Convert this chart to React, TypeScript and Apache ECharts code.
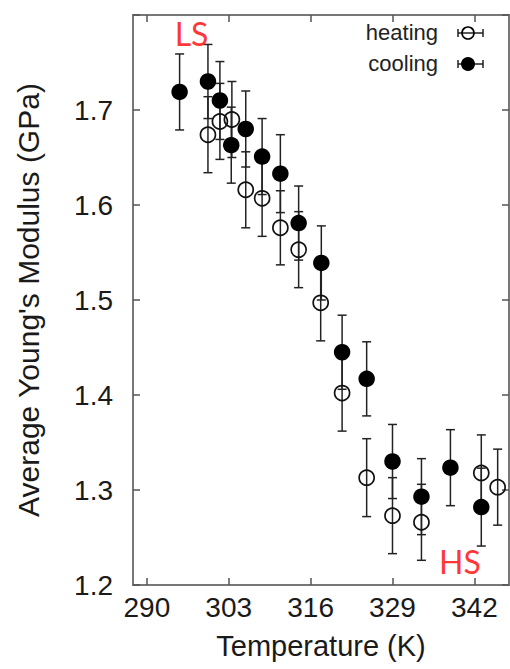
import React, { useEffect, useRef } from "react";
import * as echarts from "echarts";

// Heating (open circles)
const heatingT = [299.7, 301.6, 303.5, 305.7, 308.3, 311.2, 314.1, 317.6, 321.0, 324.9, 329.0, 333.6, 343.1, 345.7];
const heatingE = [1.674, 1.688, 1.69, 1.616, 1.607, 1.576, 1.553, 1.497, 1.402, 1.313, 1.273, 1.266, 1.318, 1.303];
const heatingErr = [0.04, 0.04, 0.04, 0.04, 0.04, 0.039, 0.04, 0.04, 0.04, 0.041, 0.04, 0.04, 0.04, 0.04];

// Cooling (filled circles)
const coolingT = [295.2, 299.7, 301.6, 303.4, 305.7, 308.3, 311.2, 314.1, 317.7, 321.0, 324.9, 329.0, 333.6, 338.2, 343.1];
const coolingE = [1.719, 1.73, 1.71, 1.663, 1.68, 1.651, 1.633, 1.581, 1.539, 1.445, 1.417, 1.33, 1.293, 1.3235, 1.282];
const coolingErr = [0.04, 0.039, 0.041, 0.04, 0.04, 0.04, 0.041, 0.039, 0.039, 0.039, 0.039, 0.039, 0.04, 0.04, 0.041];

// Axis ticks
const xTicks = [290, 303, 316, 329, 342];
const yTicks = [1.2, 1.3, 1.4, 1.5, 1.6, 1.7, 1.8];
const yLabels = [1.2, 1.3, 1.4, 1.5, 1.6, 1.7];

// Annotations
const annoText = ["LS", "HS"];
const annoT = [297.1, 339.7];
const annoE = [1.7805, 1.2247];

const FONT = "'Liberation Sans', Arial, sans-serif";

export default function App() {
  const ref = useRef<HTMLDivElement>(null);
  useEffect(() => {
    if (!ref.current) return;
    const chart = echarts.init(ref.current, undefined, { renderer: "svg" });

    const errData = (t: number[], e: number[], err: number[]) =>
      t.map((x, i) => [x, e[i] - err[i], e[i] + err[i]]);

    const errRender = (params: any, api: any) => {
      const x = api.value(0);
      const lo = api.value(1);
      const hi = api.value(2);
      const top = api.coord([x, hi]);
      const bot = api.coord([x, lo]);
      const w = 4.5;
      const style = { stroke: "#222", lineWidth: 1.5 };
      return {
        type: "group",
        children: [
          { type: "line", shape: { x1: top[0], y1: top[1], x2: bot[0], y2: bot[1] }, style },
          { type: "line", shape: { x1: top[0] - w, y1: top[1], x2: top[0] + w, y2: top[1] }, style },
          { type: "line", shape: { x1: bot[0] - w, y1: bot[1], x2: bot[0] + w, y2: bot[1] }, style },
        ],
      };
    };

    const tickStyle = { color: "#555", width: 1.5 };
    const xMin = 287.8;
    const xMax = 347.5;

    const legendY = [33, 64];
    const legendNames = ["heating", "cooling"];
    const legendGraphics: any[] = [];
    legendNames.forEach((name, i) => {
      const y = legendY[i];
      legendGraphics.push(
        {
          type: "text",
          right: 510 - 438,
          top: y - 12,
          style: { text: name, font: `22px ${FONT}`, fill: "#222" },
        },
        { type: "line", shape: { x1: 458, y1: y, x2: 483, y2: y }, style: { stroke: "#222", lineWidth: 1.5 } },
        { type: "line", shape: { x1: 458, y1: y - 4, x2: 458, y2: y + 4 }, style: { stroke: "#222", lineWidth: 1.5 } },
        { type: "line", shape: { x1: 483, y1: y - 4, x2: 483, y2: y + 4 }, style: { stroke: "#222", lineWidth: 1.5 } },
        i === 0
          ? { type: "circle", shape: { cx: 468, cy: y, r: 6 }, style: { fill: "none", stroke: "#000", lineWidth: 1.6 } }
          : { type: "circle", shape: { cx: 468, cy: y, r: 7 }, style: { fill: "#000" } }
      );
    });

    chart.setOption({
      animation: false,
      backgroundColor: "#fff",
      textStyle: { fontFamily: FONT },
      grid: {
        left: 133,
        right: 1,
        top: 15,
        bottom: 84,
        show: true,
        borderColor: "#777",
        borderWidth: 2,
        backgroundColor: "transparent",
      },
      xAxis: [
        {
          type: "value",
          min: xMin,
          max: xMax,
          position: "bottom",
          axisLine: { show: false },
          splitLine: { show: false },
          axisTick: { show: true, inside: true, length: 7, customValues: xTicks, lineStyle: tickStyle },
          axisLabel: {
            show: true,
            customValues: xTicks,
            fontSize: 28,
            color: "#1a1a1a",
            margin: 8,
            fontFamily: FONT,
          },
          name: "Temperature (K)",
          nameLocation: "middle",
          nameGap: 46,
          nameTextStyle: { fontSize: 29, color: "#1a1a1a", fontFamily: FONT },
        },
        {
          type: "value",
          min: xMin,
          max: xMax,
          position: "top",
          axisLine: { show: false },
          splitLine: { show: false },
          axisTick: { show: true, inside: true, length: 7, customValues: xTicks, lineStyle: tickStyle },
          axisLabel: { show: false },
        },
      ],
      yAxis: [
        {
          type: "value",
          min: 1.2,
          max: 1.8,
          position: "left",
          axisLine: { show: false },
          splitLine: { show: false },
          axisTick: { show: true, inside: true, length: 7, customValues: yTicks, lineStyle: tickStyle },
          axisLabel: {
            show: true,
            customValues: yLabels,
            fontSize: 28,
            color: "#1a1a1a",
            margin: 20,
            fontFamily: FONT,
            formatter: (v: number) => v.toFixed(1),
          },
          name: "Average Young's Modulus (GPa)",
          nameLocation: "middle",
          nameGap: 90,
          nameTextStyle: { fontSize: 30, color: "#1a1a1a", fontFamily: FONT },
        },
        {
          type: "value",
          min: 1.2,
          max: 1.8,
          position: "right",
          axisLine: { show: false },
          splitLine: { show: false },
          axisTick: { show: true, inside: true, length: 7, customValues: yTicks, lineStyle: tickStyle },
          axisLabel: { show: false },
        },
      ],
      graphic: legendGraphics,
      series: [
        {
          type: "custom",
          name: "heating-err",
          renderItem: errRender,
          encode: { x: 0, y: [1, 2] },
          data: errData(heatingT, heatingE, heatingErr),
          z: 1,
          silent: true,
        },
        {
          type: "custom",
          name: "cooling-err",
          renderItem: errRender,
          encode: { x: 0, y: [1, 2] },
          data: errData(coolingT, coolingE, coolingErr),
          z: 1,
          silent: true,
        },
        {
          type: "scatter",
          name: "heating",
          symbol: "circle",
          symbolSize: 15,
          itemStyle: { color: "rgba(0,0,0,0)", borderColor: "#111", borderWidth: 1.7, opacity: 1 },
          data: heatingT.map((t, i) => [t, heatingE[i]]),
          z: 3,
        },
        {
          type: "scatter",
          name: "cooling",
          symbol: "circle",
          symbolSize: 16.5,
          itemStyle: { color: "#000", opacity: 1 },
          data: coolingT.map((t, i) => [t, coolingE[i]]),
          z: 3,
        },
        {
          type: "scatter",
          name: "annotations",
          symbolSize: 0,
          silent: true,
          data: annoText.map((s, i) => ({ value: [annoT[i], annoE[i]], name: s })),
          label: {
            show: true,
            position: "inside",
            formatter: (p: any) => p.name,
            fontSize: 32,
            fontFamily: "Lato, 'Open Sans', sans-serif",
            color: "#ff0000",
          },
          z: 4,
        },
      ],
    });

    return () => chart.dispose();
  }, []);

  return (
    <div
      ref={ref}
      style={{ position: "fixed", left: 0, top: 0, width: 510, height: 669, background: "#fff" }}
    />
  );
}
